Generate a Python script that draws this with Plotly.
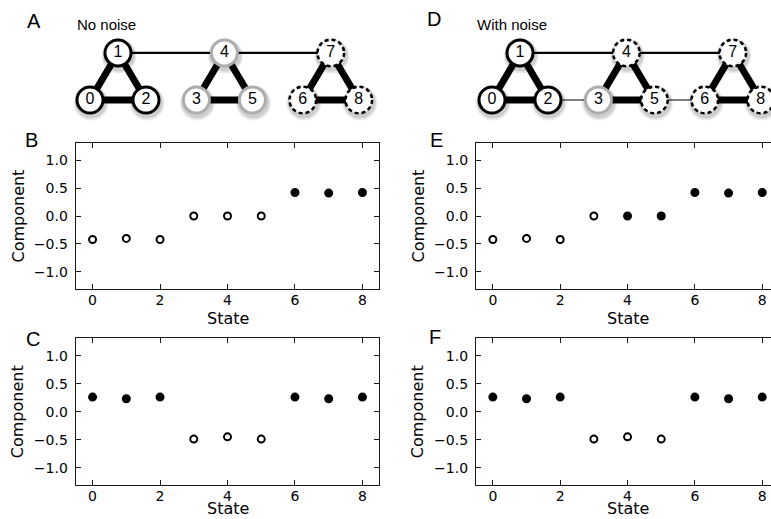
import plotly.graph_objects as go

# ---------------- data ----------------
states = [0, 1, 2, 3, 4, 5, 6, 7, 8]
x_ticks = [0, 2, 4, 6, 8]
y_ticks = [-1.0, -0.5, 0.0, 0.5, 1.0]

# eigenvector components
b_vals = [-0.42, -0.40, -0.42, 0.00, 0.00, 0.00, 0.42, 0.41, 0.42]
b_filled = [0, 0, 0, 0, 0, 0, 1, 1, 1]
c_vals = [0.26, 0.23, 0.26, -0.49, -0.45, -0.49, 0.26, 0.23, 0.26]
c_filled = [1, 1, 1, 0, 0, 0, 1, 1, 1]
e_vals = [-0.42, -0.40, -0.42, 0.00, 0.00, 0.00, 0.42, 0.41, 0.42]
e_filled = [0, 0, 0, 0, 1, 1, 1, 1, 1]
f_vals = [0.26, 0.23, 0.26, -0.49, -0.45, -0.49, 0.26, 0.23, 0.26]
f_filled = [1, 1, 1, 0, 0, 0, 1, 1, 1]

# network layout (abstract layout units)
node_ids = ["0", "1", "2", "3", "4", "5", "6", "7", "8"]
node_x = [0.0, 0.5, 1.0, 1.9, 2.4, 2.9, 3.8, 4.3, 4.8]
node_y = [0.0, 0.84, 0.0, 0.0, 0.84, 0.0, 0.0, 0.84, 0.0]
edges_a = [(0, 1), (1, 2), (0, 2), (3, 4), (4, 5), (3, 5), (6, 7), (7, 8), (6, 8), (1, 4), (4, 7)]
weights_a = [3, 3, 3, 3, 3, 3, 3, 3, 3, 1, 1]
edges_d = [(0, 1), (1, 2), (0, 2), (3, 4), (4, 5), (3, 5), (6, 7), (7, 8), (6, 8), (1, 4), (4, 7), (2, 3), (5, 6)]
weights_d = [3, 3, 3, 3, 3, 3, 3, 3, 3, 1, 1, 0.5, 0.5]
# node group: 0 = solid black, 1 = grey, 2 = dashed
groups_a = [0, 0, 0, 1, 1, 1, 2, 2, 2]
groups_d = [0, 0, 0, 1, 2, 2, 2, 2, 2]

# ---------------- styling helpers ----------------
W, H = 771, 519
def px(x):
    return x / W
def py(y):
    return 1 - y / H

TICK_FONT = dict(family="DejaVu Sans", size=14, color="black")
LABEL_FONT = dict(family="DejaVu Sans", size=16, color="black")
LETTER_FONT = dict(family="Liberation Sans", size=20, color="black")
SUB_FONT = dict(family="Liberation Sans", size=15, color="black")
NODE_FONT = dict(family="Liberation Sans", size=16, color="black")
AXCOL = "#1a1a1a"

fig = go.Figure()

panels = [
    ("x", "y", b_vals, b_filled),
    ("x2", "y2", c_vals, c_filled),
    ("x3", "y3", e_vals, e_filled),
    ("x4", "y4", f_vals, f_filled),
]
for xa, ya, vals, filled in panels:
    fig.add_trace(go.Scatter(
        x=states, y=vals, mode="markers", xaxis=xa, yaxis=ya,
        marker=dict(size=7, color=["black" if f else "white" for f in filled],
                    line=dict(color="black", width=2)),
        showlegend=False, hoverinfo="skip"))

# network panels
shapes = []
for xa, ya, edges, weights, groups in [("x5", "y5", edges_a, weights_a, groups_a),
                                       ("x6", "y6", edges_d, weights_d, groups_d)]:
    for (i, j), w in zip(edges, weights):
        fig.add_trace(go.Scatter(
            x=[node_x[i], node_x[j]], y=[node_y[i], node_y[j]], mode="lines",
            xaxis=xa, yaxis=ya, line=dict(color="black", width=2.3 * w),
            showlegend=False, hoverinfo="skip"))
    line_cols = ["black" if g == 0 else ("#adadad" if g == 1 else "black") for g in groups]
    line_ws = [3 if g < 2 else 0 for g in groups]
    fig.add_trace(go.Scatter(
        x=node_x, y=node_y, mode="markers+text", text=node_ids,
        textposition="middle center", textfont=NODE_FONT,
        xaxis=xa, yaxis=ya,
        marker=dict(size=26, color="white", line=dict(color=line_cols, width=line_ws)),
        showlegend=False, hoverinfo="skip"))
    for k in range(len(node_x)):
        # soft shadow
        for r, off, op in [(17.5, -3, 0.08), (16, -2.5, 0.12)]:
            shapes.append(dict(type="circle", xref=xa, yref=ya, layer="below",
                               xsizemode="pixel", ysizemode="pixel",
                               xanchor=node_x[k], yanchor=node_y[k],
                               x0=-r + 1, x1=r + 1, y0=-r + off, y1=r + off,
                               fillcolor=f"rgba(0,0,0,{op})", line=dict(width=0)))
        if groups[k] == 2:
            shapes.append(dict(type="circle", xref=xa, yref=ya, layer="above",
                               xsizemode="pixel", ysizemode="pixel",
                               xanchor=node_x[k], yanchor=node_y[k],
                               x0=-13.3, x1=13.3, y0=-13.3, y1=13.3,
                               line=dict(color="black", width=2.6, dash="4px,3px")))

def sc_x(domain, rng, mirror):
    return dict(domain=domain, range=rng, tickvals=x_ticks, ticks="inside", ticklen=5,
                tickwidth=1, tickcolor=AXCOL, showline=True, linecolor=AXCOL, linewidth=1.2,
                mirror=mirror, showgrid=False, zeroline=False, tickfont=TICK_FONT,
                ticklabelstandoff=-2)

def sc_y(domain, mirror):
    return dict(domain=domain, range=[-1.31, 1.31], tickvals=y_ticks, tickformat=".1f",
                ticks="inside", ticklen=5, tickwidth=1, tickcolor=AXCOL, showline=True,
                linecolor=AXCOL, linewidth=1.2, mirror=mirror, showgrid=False,
                zeroline=False, tickfont=TICK_FONT, ticklabelstandoff=4)

xl = [px(75.7), px(379.3)]
xr = [px(476), 1.0]
ytop = [py(289.3), py(142.7)]
ybot = [py(485), py(338.3)]

layout = dict(
    width=W, height=H, margin=dict(l=0, r=0, t=0, b=0),
    paper_bgcolor="white", plot_bgcolor="white", showlegend=False,
    xaxis=sc_x(xl, [-0.5, 8.5], "ticks"), yaxis=sc_y(ytop, "ticks"),
    xaxis2=sc_x(xl, [-0.5, 8.5], "ticks"), yaxis2=sc_y(ybot, "ticks"),
    xaxis3=sc_x(xr, [-0.5, 8.26], "ticks"), yaxis3=sc_y(ytop, False),
    xaxis4=sc_x(xr, [-0.5, 8.26], "ticks"), yaxis4=sc_y(ybot, False),
    xaxis5=dict(domain=[0, 0.5], range=[-90 / 56, (385.5 - 90) / 56], visible=False),
    yaxis5=dict(domain=[py(125), 1], range=[-25 / 56, 100 / 56], visible=False),
    xaxis6=dict(domain=[0.5, 1], range=[(385.5 - 492) / 56, (771 - 492) / 56], visible=False),
    yaxis6=dict(domain=[py(125), 1], range=[-25 / 56, 100 / 56], visible=False),
    shapes=shapes,
)
for k in ["2", "3", "4", "5", "6"]:
    layout["xaxis" + k]["anchor"] = "y" + k
    layout["yaxis" + k]["anchor"] = "x" + k
fig.update_layout(layout)

ann = []
def txt(t, x, y, font, xanchor="left", yanchor="middle", angle=0, pad=1):
    ann.append(dict(text=t, x=px(x), y=py(y), xref="paper", yref="paper", showarrow=False,
                    font=font, xanchor=xanchor, yanchor=yanchor, textangle=angle,
                    borderpad=pad))

txt("A", 25, 21, LETTER_FONT)
txt("No noise", 75, 25, SUB_FONT)
txt("D", 425, 19, LETTER_FONT)
txt("With noise", 475, 25, SUB_FONT)
txt("B", 23, 140, LETTER_FONT)
txt("C", 24, 338.5, LETTER_FONT)
txt("E", 428, 140, LETTER_FONT)
txt("F", 427, 336.5, LETTER_FONT)
for cx in [227.5, 627.5]:
    txt("State", cx, 318, LABEL_FONT, xanchor="center")
    txt("State", cx, 519, LABEL_FONT, xanchor="center", yanchor="bottom", pad=0)
for cx in [17.5, 417.5]:
    txt("Component", cx, 216, LABEL_FONT, xanchor="center", angle=-90)
    txt("Component", cx, 411.7, LABEL_FONT, xanchor="center", angle=-90)
fig.update_layout(annotations=ann)

fig.write_html("out.html", config={"displayModeBar": False},
               post_script="document.body.style.margin='0';document.body.style.padding='0';"
                           "document.body.style.overflow='hidden';")
